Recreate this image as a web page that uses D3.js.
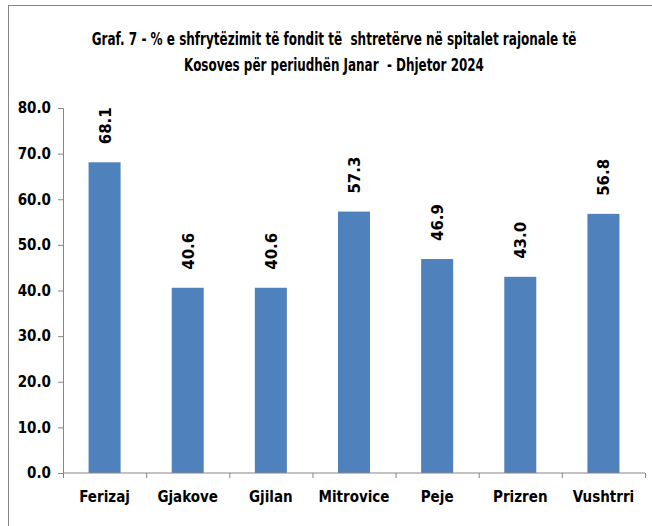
<!DOCTYPE html>
<html>
<head>
<meta charset="utf-8">
<script src="https://cdn.jsdelivr.net/npm/d3@7"></script>
<style>
  body { margin: 0; background: #fff; }
  svg { display: block; }
  .title { font-family: "Liberation Sans Narrow", "DejaVu Sans Condensed", sans-serif; font-weight: bold; font-size: 17px; fill: #000; }
  .axis text { font-family: "Liberation Sans Narrow", "DejaVu Sans Condensed", sans-serif; font-weight: bold; font-size: 15px; fill: #000; }
  .axis path, .axis line { stroke: #868686; }
  .val { font-family: "DejaVu Sans", Verdana, sans-serif; font-weight: bold; font-size: 15px; fill: #000; }
</style>
</head>
<body>
<div id="chart"></div>
<script>
// data
var regions = ["Ferizaj", "Gjakove", "Gjilan", "Mitrovice", "Peje", "Prizren", "Vushtrri"];
var occupancy = [68.1, 40.6, 40.6, 57.3, 46.9, 43.0, 56.8];
var yTicks = [0, 10, 20, 30, 40, 50, 60, 70, 80];
var titleLines = [
  "Graf. 7 - % e shfrytëzimit të fondit të  shtretërve në spitalet rajonale të",
  "Kosoves për periudhën Janar  - Dhjetor 2024"
];

var W = 652, H = 526;
var margin = { top: 108, right: 7, bottom: 53, left: 63 },
    width  = W - margin.left - margin.right,
    height = H - margin.top - margin.bottom;

var svg = d3.select("#chart").append("svg")
    .attr("width", W)
    .attr("height", H);

// outer chart border
svg.append("rect")
    .attr("x", 8.5).attr("y", 5.5)
    .attr("width", 660).attr("height", 540)
    .attr("fill", "none")
    .attr("stroke", "#868686");

// title: the original uses a narrow font, so squeeze each line horizontally
var titleWidths = [485, 300];
svg.selectAll(".title")
    .data(titleLines)
    .enter()
    .append("text")
      .attr("class", "title")
      .attr("text-anchor", "middle")
      .attr("xml:space", "preserve")
      .text(function(d) { return d; })
      .attr("transform", function(d, i) {
        var sx = titleWidths[i] / this.getComputedTextLength();
        return "translate(334," + (45 + i * 25.5) + ") scale(" + sx + ",1)";
      });

var g = svg.append("g")
    .attr("transform", "translate(" + margin.left + "," + margin.top + ")");

var x = d3.scaleBand()
    .domain(regions)
    .range([0, width])
    .paddingInner(0.615)
    .paddingOuter(0.3075);

var y = d3.scaleLinear()
    .domain([0, 80])
    .range([height, 0]);

// y axis
g.append("g")
    .attr("class", "axis y")
    .call(d3.axisLeft(y).tickValues(yTicks).tickFormat(d3.format(".1f")).tickSizeOuter(0).tickSize(5).tickPadding(7));

// bars
g.selectAll(".bar")
    .data(occupancy)
    .enter()
    .append("rect")
      .attr("class", "bar")
      .attr("x", function(d, i) { return x(regions[i]); })
      .attr("y", function(d) { return y(d); })
      .attr("width", x.bandwidth())
      .attr("height", function(d) { return height - y(d); })
      .attr("fill", "#4F81BD");

// x axis with ticks between categories
var xAxis = g.append("g")
    .attr("class", "axis x")
    .attr("transform", "translate(0," + height + ")");

xAxis.append("line")
    .attr("x1", 0).attr("x2", width)
    .attr("stroke", "#868686");

var step = x.step();
xAxis.selectAll(".sep")
    .data(d3.range(regions.length + 1))
    .enter()
    .append("line")
      .attr("x1", function(i) { return i * step + 0.5; })
      .attr("x2", function(i) { return i * step + 0.5; })
      .attr("y1", 0).attr("y2", 5)
      .attr("stroke", "#868686");

xAxis.selectAll(".lbl")
    .data(regions)
    .enter()
    .append("text")
      .attr("x", function(d) { return x(d) + x.bandwidth() / 2; })
      .attr("y", 29)
      .attr("text-anchor", "middle")
      .text(function(d) { return d; });

// value labels, rotated
g.selectAll(".val")
    .data(occupancy)
    .enter()
    .append("text")
      .attr("class", "val")
      .attr("transform", function(d, i) {
        var cx = x(regions[i]) + x.bandwidth() / 2 + 6;
        return "translate(" + cx + "," + (y(d) - 18) + ") rotate(-90)";
      })
      .text(function(d) { return d.toFixed(1); });
</script>
</body>
</html>
